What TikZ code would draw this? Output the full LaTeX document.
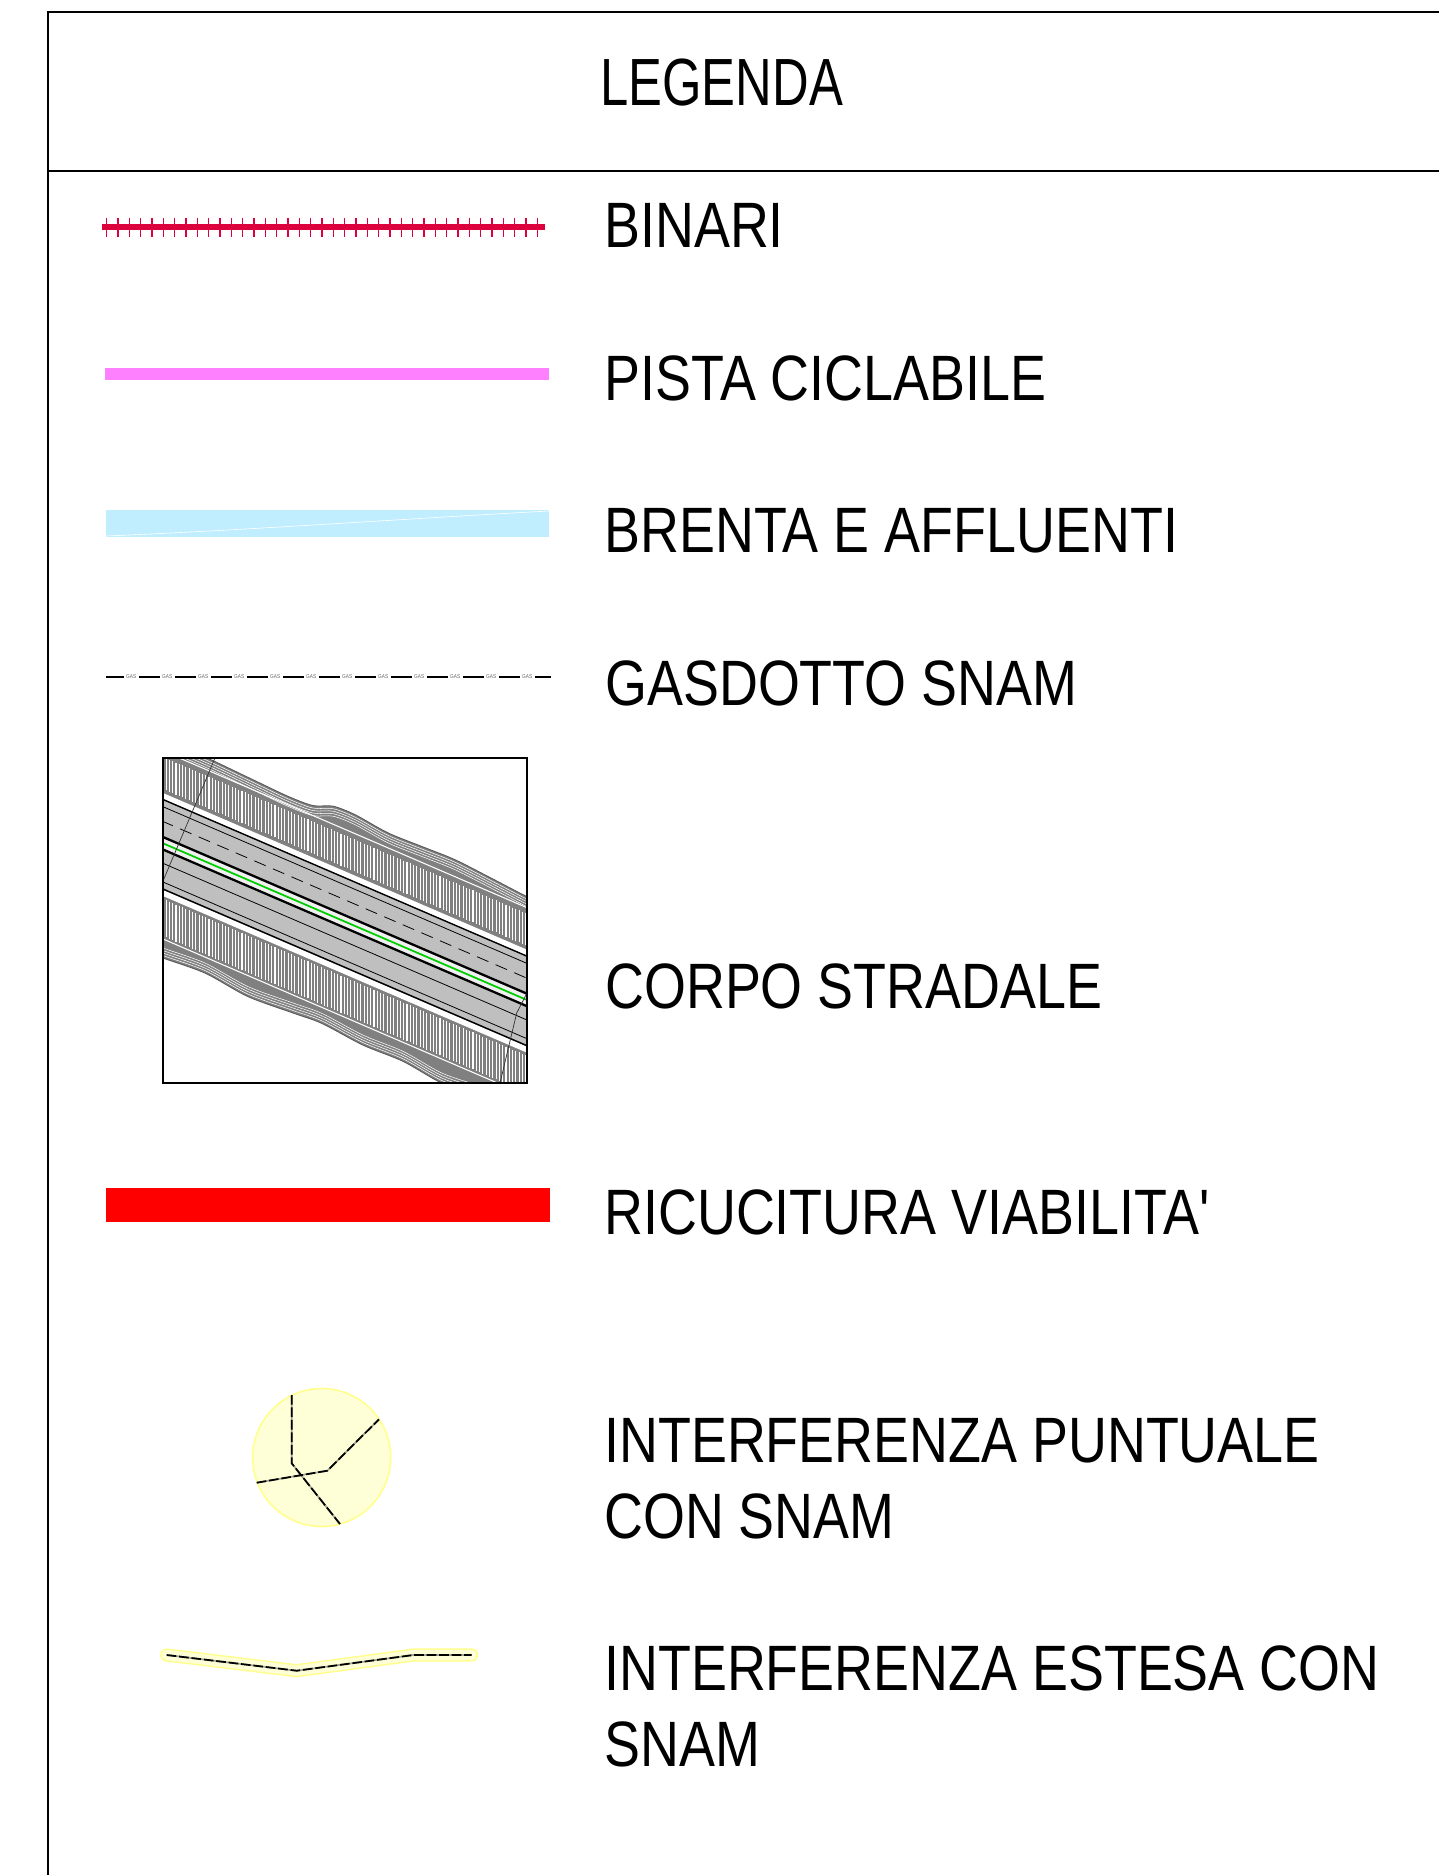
\documentclass[tikz,border=0pt]{standalone}
\usepackage{fontspec}
\setmainfont[FakeStretch=0.84]{Liberation Sans}
\newfontfamily\titlefont[FakeStretch=0.76]{Liberation Sans}
\definecolor{binari}{RGB}{220,0,60}
\definecolor{pista}{RGB}{255,128,255}
\definecolor{brenta}{RGB}{192,238,255}
\definecolor{snamfill}{RGB}{255,255,215}
\definecolor{snamedge}{RGB}{255,255,140}
\definecolor{snamgray}{RGB}{165,165,145}
\definecolor{asse}{RGB}{0,205,0}
\newcommand\roadtop{plot[smooth] coordinates {(-20,740) (0,739) (45,739) (90,741) (125,742.5) (150,741) (170,733) (192,732) (225,736) (260,735) (292,734) (330,737) (364,740) (380,740)}}
\newcommand\roadbottom{plot[smooth] coordinates {(-20,958) (0,958) (42,955) (85,960) (130,957) (159,955) (200,959) (240,958) (279,963) (320,960) (380,961)}}
\begin{document}
\begin{tikzpicture}[x = 0.02cm, y = -0.02cm,
    titolo/.style = {anchor = base west, inner sep = 0pt, font = \titlefont\fontsize{38}{42}\selectfont},
    voce/.style = {anchor = base west, inner sep = 0pt, font = \fontsize{36.5}{40}\selectfont},
    gas/.style = {fill = white, inner sep = 0pt, minimum width = 0.3cm, minimum height = 0.12cm, text = black!60, font = \fontsize{3.2}{3.5}\selectfont},
    snamline/.style = {dash pattern = on 5.5pt off 1.6pt, line width = 1pt}]
        \useasboundingbox (0,0) rectangle (1439,1875);
        \draw[line width = 0.9pt] (1439,12) -- (48,12) -- (48,1875);
        \draw[line width = 0.9pt] (48,171) -- (1439,171);
        \node (legenda) [titolo] at (600,106) {LEGENDA};

        \draw[binari, line width = 3.4pt] (102,227) -- (545,227);
        \foreach \k in {0,...,38}
            \draw[binari, line width = 0.7pt] ({106.7+11.33*\k},218) -- ({106.7+11.33*\k},237);
        \node (binari) [voce] at (604,248) {BINARI};

        \fill[pista] (105,368) rectangle (549,380);
        \node (pista) [voce] at (604,400) {PISTA CICLABILE};

        \fill[brenta] (106,510) rectangle (549,537);
        \draw[white, line width = 0.35pt] (106,536) .. controls (250,530) and (400,519) .. (549,511);
        \node (brenta) [voce] at (604,552) {BRENTA E AFFLUENTI};

        \draw[line width = 1.3pt] (106,677) -- (551,677);
        \foreach \k in {0,...,11}
            \node (gas\k) [gas] at ({131.2+36*\k},677) {GAS};
        \node (gasdotto) [voce] at (605,705) {GASDOTTO SNAM};

        \begin{scope}
            \clip (163,758) rectangle (527,1083);
            \begin{scope}[shift = {(163,0)}, yslant = -0.4305]
                \fill[black!50] \roadtop -- (380,850) -- (-20,850) -- cycle;
                \fill[black!50] \roadbottom -- (380,850) -- (-20,850) -- cycle;
                \foreach \d in {2.5,5,7.5,10}
                    \draw[white, line width = 0.3pt, shift = {(0,\d)}] \roadtop;
                \foreach \d in {2.5,5,7.5,10}
                    \draw[white, line width = 0.3pt, shift = {(0,-\d)}] \roadbottom;
                \draw[black!65, line width = 0.5pt] \roadtop;
                \draw[black!65, line width = 0.5pt] \roadbottom;
                \foreach \x in {-20,-16.7,...,380}
                    \draw[white, line width = 0.6pt] (\x,757) -- (\x,789) (\x,899) -- (\x,936);
                \draw[white, line width = 0.6pt] (-20,751) -- (380,751) (-20,939) -- (380,939);
                \fill[white] (-20,793) rectangle (380,799);
                \fill[white] (-20,890) rectangle (380,896);
                \fill[black!25] (-20,799) rectangle (380,889.5);
                \fill[black!6] (-20,838.5) rectangle (380,848.5);
                \draw[line width = 0.8pt] (-20,799.5) -- (380,799.5);
                \draw[line width = 0.45pt] (-20,806.7) -- (380,806.7);
                \draw[line width = 0.45pt, dash pattern = on 7pt off 4.5pt] (-20,821.5) -- (380,821.5);
                \draw[line width = 1.3pt] (-20,837) -- (380,837);
                \draw[asse, line width = 1pt] (-20,843.3) -- (380,843.3);
                \draw[line width = 1.3pt] (-20,849.5) -- (380,849.5);
                \draw[line width = 0.45pt] (-20,863.3) -- (380,863.3);
                \draw[line width = 0.45pt] (-20,882) -- (380,882);
                \draw[line width = 0.8pt] (-20,889) -- (380,889);
            \end{scope}
            \draw[black!80, line width = 0.4pt] (215,758) -- (163,881);
            \draw[black!80, line width = 0.4pt] (527,993) -- (516.7,1013) -- (500,1083);
        \end{scope}
        \draw[line width = 0.8pt] (163,758) rectangle (527,1083);
        \node (corpo) [voce] at (605,1008) {CORPO STRADALE};

        \fill[red] (106,1188) rectangle (550,1222);
        \node (ricucitura) [voce] at (604,1234) {RICUCITURA VIABILITA\textquotesingle};

        \draw[snamedge, fill = snamfill, line width = 0.9pt] (321.7,1457.5) circle [radius = 69];
        \draw[snamgray, line width = 1pt] (291.7,1395) -- (291.7,1463.3) -- (340,1524);
        \draw[snamgray, line width = 1pt] (256.7,1482.7) -- (327.3,1470.7) -- (379,1419.3);
        \draw[snamline] (291.7,1395) -- (291.7,1463.3) -- (340,1524);
        \draw[snamline] (256.7,1482.7) -- (327.3,1470.7) -- (379,1419.3);
        \node (puntuale) [voce] at (604,1462) {INTERFERENZA PUNTUALE};
        \node (puntualebis) [voce] at (604,1538) {CON SNAM};

        \draw[snamedge, line width = 7.5pt, line cap = round, line join = round] (166.7,1655) -- (296.7,1670.7) -- (413.3,1655) -- (471.7,1655);
        \draw[snamfill, line width = 5.8pt, line cap = round, line join = round] (166.7,1655) -- (296.7,1670.7) -- (413.3,1655) -- (471.7,1655);
        \draw[snamgray, line width = 1pt] (166.7,1655) -- (296.7,1670.7) -- (413.3,1655) -- (471.7,1655);
        \draw[snamline] (166.7,1655) -- (296.7,1670.7) -- (413.3,1655) -- (471.7,1655);
        \node (estesa) [voce] at (604,1690) {INTERFERENZA ESTESA CON};
        \node (estesabis) [voce] at (604,1766) {SNAM};
    \end{tikzpicture}
\end{document}
